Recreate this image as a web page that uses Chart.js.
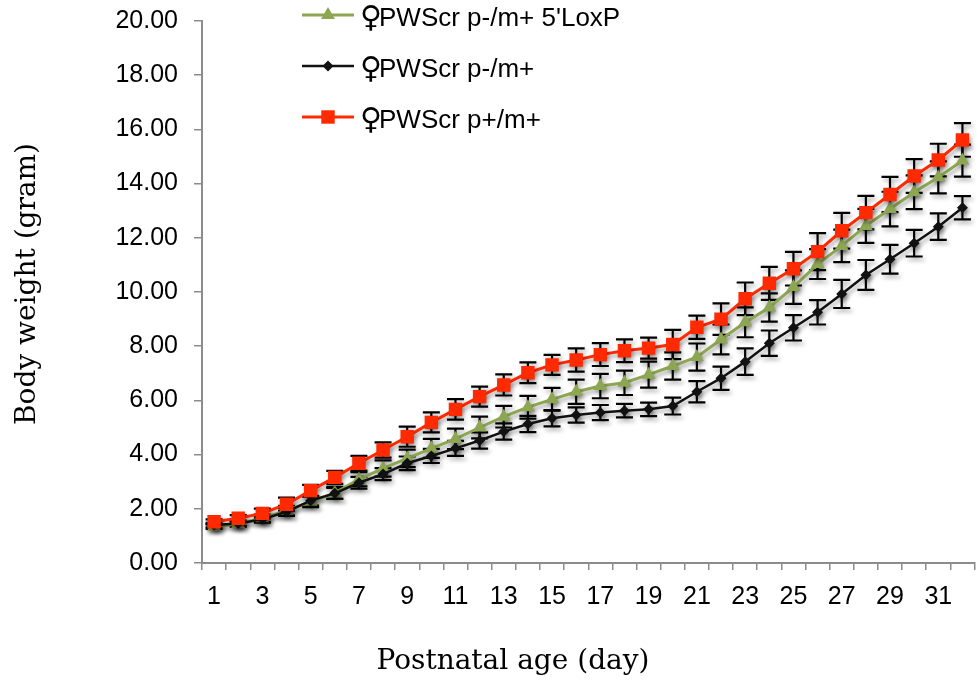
<!DOCTYPE html>
<html>
<head>
<meta charset="utf-8">
<script src="https://cdn.jsdelivr.net/npm/chart.js@4.4.1/dist/chart.umd.min.js"></script>
<style>
  html, body { margin: 0; padding: 0; background: #fff; overflow: hidden; }
  #wrap { width: 984px; height: 684px; overflow: hidden; }
</style>
</head>
<body>
<div id="wrap"><canvas id="growth-chart" width="984" height="684"></canvas></div>
<script>
// postnatal days on the x axis
const days = ['1','2','3','4','5','6','7','8','9','10','11','12','13','14','15','16',
  '17','18','19','20','21','22','23','24','25','26','27','28','29','30','31','32'];

// ♀PWScr p-/m+ 5'LoxP (green triangles)
const loxpWeight = [1.34,1.44,1.65,1.93,2.26,2.59,3.09,3.49,3.86,4.23,4.58,5.00,5.40,5.75,6.04,6.32,
  6.53,6.65,6.95,7.27,7.60,8.25,8.88,9.43,10.18,11.03,11.70,12.44,13.06,13.68,14.23,14.85];
const loxpErr = [0.08,0.10,0.14,0.18,0.20,0.22,0.26,0.30,0.32,0.35,0.38,0.40,0.40,0.42,0.42,0.45,
  0.45,0.45,0.48,0.50,0.50,0.55,0.55,0.52,0.62,0.55,0.60,0.63,0.64,0.62,0.59,0.59];

// ♀PWScr p-/m+ (black diamonds)
const patWeight = [1.40,1.46,1.61,1.89,2.30,2.57,2.96,3.28,3.68,3.95,4.23,4.52,4.85,5.13,5.34,5.46,
  5.55,5.62,5.67,5.79,6.32,6.82,7.43,8.11,8.68,9.25,9.93,10.63,11.21,11.80,12.41,13.11];
const patErr = [0.08,0.10,0.12,0.15,0.18,0.20,0.22,0.22,0.25,0.26,0.28,0.30,0.30,0.30,0.30,0.28,
  0.28,0.25,0.25,0.31,0.39,0.43,0.49,0.47,0.47,0.45,0.52,0.55,0.53,0.49,0.49,0.43];

// ♀PWScr p+/m+ (red squares)
const wtWeight = [1.52,1.65,1.83,2.17,2.67,3.16,3.68,4.17,4.66,5.19,5.67,6.14,6.57,7.02,7.31,7.49,
  7.69,7.83,7.93,8.06,8.70,9.00,9.75,10.32,10.86,11.49,12.26,12.93,13.60,14.28,14.87,15.61];
const wtErr = [0.09,0.12,0.18,0.24,0.21,0.24,0.27,0.28,0.37,0.37,0.38,0.37,0.39,0.38,0.37,0.43,
  0.42,0.42,0.39,0.54,0.43,0.58,0.60,0.61,0.62,0.68,0.66,0.62,0.65,0.62,0.60,0.62];

const seriesNames = ["♀PWScr p-/m+ 5'LoxP", "♀PWScr p-/m+", "♀PWScr p+/m+"];

const yMin = 0, yMax = 20, yStep = 2;
const xTitle = 'Postnatal age (day)';
const yTitle = 'Body weight (gram)';

const axisGrey = '#8c8c8c';
const sansFont = "'Liberation Sans', Arial, sans-serif";
const serifFont = "'DejaVu Serif', serif";

function drawMarker(ctx, style, x, y, r, color) {
  ctx.fillStyle = color;
  ctx.beginPath();
  if (style === 'rect') {
    let s = r * Math.SQRT1_2;
    ctx.rect(x - s, y - s, 2 * s, 2 * s);
  } else if (style === 'triangle') {
    ctx.moveTo(x, y - r);
    ctx.lineTo(x + r * 0.866, y + r * 0.5);
    ctx.lineTo(x - r * 0.866, y + r * 0.5);
    ctx.closePath();
  } else {
    ctx.moveTo(x, y - r);
    ctx.lineTo(x + r, y);
    ctx.lineTo(x, y + r);
    ctx.lineTo(x - r, y);
    ctx.closePath();
  }
  ctx.fill();
}

const shadowPlugin = {
  id: 'softShadow',
  beforeDatasetsDraw(chart) {
    let ctx = chart.ctx;
    ctx.save();
    ctx.shadowColor = 'rgba(0,0,0,0.35)';
    ctx.shadowBlur = 4;
    ctx.shadowOffsetX = 2;
    ctx.shadowOffsetY = 3;
    // error bars go under the lines
    let yScale = chart.scales.y;
    chart.data.datasets.forEach((ds, i) => {
      let meta = chart.getDatasetMeta(i);
      ctx.strokeStyle = '#000';
      ctx.lineWidth = 2.2;
      meta.data.forEach((pt, j) => {
        let top = yScale.getPixelForValue(ds.data[j] + ds.errors[j]);
        let bot = yScale.getPixelForValue(ds.data[j] - ds.errors[j]);
        ctx.beginPath();
        ctx.moveTo(pt.x, top);
        ctx.lineTo(pt.x, bot);
        ctx.moveTo(pt.x - 8.5, top);
        ctx.lineTo(pt.x + 8.5, top);
        ctx.moveTo(pt.x - 8.5, bot);
        ctx.lineTo(pt.x + 8.5, bot);
        ctx.stroke();
      });
    });
  },
  afterDatasetsDraw(chart) {
    chart.ctx.restore();
  }
};

const labelsPlugin = {
  id: 'labels',
  afterDraw(chart) {
    let ctx = chart.ctx;
    ctx.save();
    // legend
    let rows = [15, 66, 117];
    chart.data.datasets.forEach((ds, i) => {
      let y = rows[i];
      ctx.strokeStyle = ds.borderColor;
      ctx.lineWidth = ds.borderWidth;
      ctx.beginPath();
      ctx.moveTo(302, y);
      ctx.lineTo(354, y);
      ctx.stroke();
      drawMarker(ctx, ds.pointStyle, 328, y, ds.pointRadius, ds.pointBackgroundColor);
      ctx.fillStyle = '#000';
      ctx.textBaseline = 'alphabetic';
      ctx.textAlign = 'left';
      let sign = ds.label.charAt(0);
      let rest = ds.label.slice(1);
      ctx.font = '30px "DejaVu Sans", sans-serif';
      ctx.fillText(sign, 360, y + 12);
      ctx.font = '26px ' + sansFont;
      ctx.fillText(rest, 379, y + 11);
    });
    // axis titles
    ctx.font = '28px ' + serifFont;
    ctx.textAlign = 'center';
    ctx.textBaseline = 'middle';
    ctx.fillText(xTitle, 513, 662);
    ctx.translate(28, 284);
    ctx.rotate(-Math.PI / 2);
    ctx.fillText(yTitle, 0, 0);
    ctx.restore();
  }
};

new Chart(document.getElementById('growth-chart').getContext('2d'), {
  type: 'line',
  data: {
    labels: days,
    datasets: [
      {
        label: seriesNames[0], data: loxpWeight, errors: loxpErr,
        borderColor: '#8da651', backgroundColor: '#8da651', pointBackgroundColor: '#8da651',
        borderWidth: 3, pointStyle: 'triangle', pointRadius: 8, pointBorderWidth: 0, order: 3
      },
      {
        label: seriesNames[1], data: patWeight, errors: patErr,
        borderColor: '#111111', backgroundColor: '#111111', pointBackgroundColor: '#111111',
        borderWidth: 2.5, pointStyle: 'rectRot', pointRadius: 5.5, pointBorderWidth: 0, order: 2
      },
      {
        label: seriesNames[2], data: wtWeight, errors: wtErr,
        borderColor: '#ff2a00', backgroundColor: '#ff2a00', pointBackgroundColor: '#ff2a00',
        borderWidth: 3, pointStyle: 'rect', pointRadius: 9.5, pointBorderWidth: 0, order: 1
      }
    ]
  },
  options: {
    responsive: false,
    animation: false,
    devicePixelRatio: 1,
    layout: { padding: { top: 21, right: 1, left: 0, bottom: 0 } },
    plugins: {
      legend: { display: false },
      tooltip: { enabled: false }
    },
    scales: {
      x: {
        type: 'category',
        offset: true,
        border: { color: axisGrey, width: 2 },
        grid: { display: true, offset: true, drawOnChartArea: false, tickLength: 7, color: axisGrey, lineWidth: 1.5 },
        ticks: {
          autoSkip: false, maxRotation: 0, padding: 12, color: '#000',
          font: { family: sansFont, size: 25 },
          callback: function(val, idx) { return idx % 2 === 0 ? this.getLabelForValue(val) : ''; }
        },
        afterFit(scale) {
          scale.height = 121;
          scale.paddingLeft = 0;
          scale.paddingRight = 0;
        }
      },
      y: {
        min: yMin, max: yMax,
        border: { color: axisGrey, width: 2 },
        grid: { display: true, drawOnChartArea: false, tickLength: 8, color: axisGrey, lineWidth: 1.5 },
        ticks: {
          stepSize: yStep, padding: 16, color: '#000',
          font: { family: sansFont, size: 25 },
          callback: v => v.toFixed(2)
        },
        afterFit(scale) {
          scale.width = 202;
          scale.paddingTop = 0;
          scale.paddingBottom = 0;
        }
      }
    }
  },
  plugins: [shadowPlugin, labelsPlugin]
});
</script>
</body>
</html>
